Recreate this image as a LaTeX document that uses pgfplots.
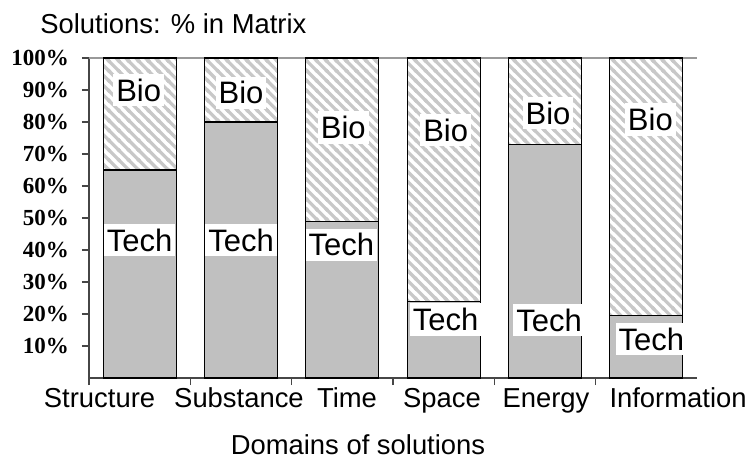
\documentclass[border=0pt]{standalone}
\usepackage{pgfplots}
\pgfplotsset{compat=1.18}
\usepackage{fontspec}
\setmainfont{Liberation Sans}
\newfontfamily\tickfont{Liberation Serif}
\usetikzlibrary{patterns}
\pgfdeclarepatternformonly{myhatch}{\pgfqpoint{-1pt}{-1pt}}{\pgfqpoint{6pt}{6pt}}{\pgfqpoint{4.95pt}{4.95pt}}{%
  \pgfsetlinewidth{1.6pt}%
  \pgfpathmoveto{\pgfqpoint{-0.5pt}{5.45pt}}%
  \pgfpathlineto{\pgfqpoint{5.45pt}{-0.5pt}}%
  \pgfpathmoveto{\pgfqpoint{-0.5pt}{0.5pt}}%
  \pgfpathlineto{\pgfqpoint{0.5pt}{-0.5pt}}%
  \pgfpathmoveto{\pgfqpoint{4.45pt}{5.45pt}}%
  \pgfpathlineto{\pgfqpoint{5.45pt}{4.45pt}}%
  \pgfusepath{stroke}}
\definecolor{techgray}{RGB}{192,192,192}
\definecolor{hatchgray}{RGB}{200,200,200}
\definecolor{axisgray}{RGB}{70,70,70}
\begin{document}
\begin{tikzpicture}
\path[use as bounding box] (-44.5pt,-39.5pt) rectangle (330.5pt,189pt);
\begin{axis}[
  scale only axis,
  width=304pt, height=160pt,
  at={(0,0)}, anchor=south west,
  ybar stacked,
  bar width=0.72,
  xmin=-0.5, xmax=5.5,
  ymin=0, ymax=100,
  axis x line*=bottom,
  axis y line*=left,
  axis line style={draw=axisgray, line width=0.9pt},
  tick align=outside,
  major tick length=3.5pt,
  tick style={draw=axisgray, line width=0.8pt},
  ytick={10,20,...,100},
  yticklabels={10\%,20\%,30\%,40\%,50\%,60\%,70\%,80\%,90\%,100\%},
  yticklabel style={font=\tickfont\bfseries\fontsize{11.5}{12}\selectfont, anchor=east, xshift=-3pt},
  /pgf/number format/assume math mode=true,
  xtick={-0.5,0.5,1.5,2.5,3.5,4.5},
  xticklabel=\empty,
  extra x ticks={-0.396,0.98,2.046,2.984,4.01,5.313},
  extra x tick labels={Structure,Substance,Time,Space,Energy,Information},
  extra x tick style={major tick length=0pt},
  xticklabel style={anchor=base, yshift=-14.5pt, font=\fontsize{13.7}{15}\selectfont},
  clip=false,
]
\addplot[fill=techgray, draw=black, line width=0.6pt] coordinates {(0,65) (1,80) (2,49) (3,24) (4,73) (5,19.5)};
\addplot[pattern=myhatch, pattern color=hatchgray, draw=black, line width=0.6pt] coordinates {(0,35) (1,20) (2,51) (3,76) (4,27) (5,80.5)};
\draw[draw=black!40, line width=0.6pt] (rel axis cs:0,1) -- (rel axis cs:1,1);
\coordinate (b0) at (axis cs:-0.01,90);
\coordinate (t0) at (axis cs:0,43.1);
\coordinate (b1) at (axis cs:1,89.1);
\coordinate (t1) at (axis cs:1,43.1);
\coordinate (b2) at (axis cs:2.01,78.4);
\coordinate (t2) at (axis cs:1.99,41.6);
\coordinate (b3) at (axis cs:3.02,77.5);
\coordinate (t3) at (axis cs:3.02,18.4);
\coordinate (b4) at (axis cs:4.03,82.8);
\coordinate (t4) at (axis cs:4.04,18.1);
\coordinate (b5) at (axis cs:5.04,80.9);
\coordinate (t5) at (axis cs:5.05,12.2);
\end{axis}
\begin{scope}[every node/.style={fill=white, text=black, inner xsep=1.5pt, inner ysep=2.5pt, font=\fontsize{15.5}{17}\selectfont}]
\foreach \i in {0,...,5} {
  \node at (b\i) {Bio};
  \node at (t\i) {Tech};
}
\end{scope}
\node[anchor=base west, inner sep=0pt, font=\fontsize{13.7}{15}\selectfont] at (-24.5pt,172.5pt) {Solutions: \% in Matrix};
\node[anchor=base, inner sep=0pt, font=\fontsize{13.7}{15}\selectfont] at (134.5pt,-38pt) {Domains of solutions};
\end{tikzpicture}
\end{document}
